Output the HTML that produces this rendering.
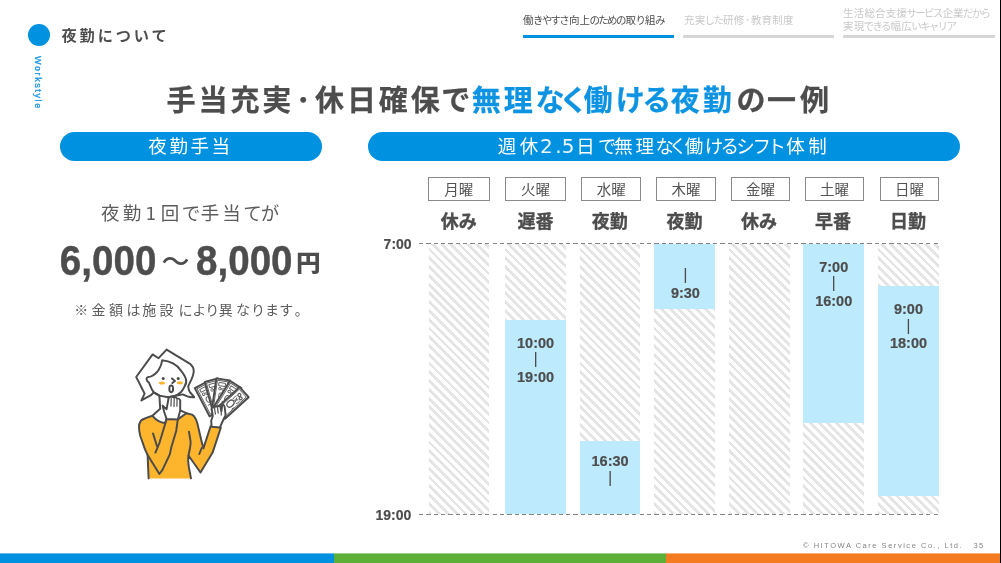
<!DOCTYPE html>
<html lang="ja">
<head>
<meta charset="utf-8">
<title>夜勤について</title>
<style>
html,body{margin:0;padding:0;}
body{width:1001px;height:563px;position:relative;overflow:hidden;background:#fff;
  font-family:"Liberation Sans","Noto Sans CJK JP",sans-serif;color:#4d4d4d;}
.abs{position:absolute;white-space:nowrap;line-height:1;}
.jp{font-family:"Noto Sans CJK JP","Liberation Sans",sans-serif;}
/* header */
#dot{left:28px;top:24px;width:22px;height:22px;border-radius:50%;background:#0091e0;}
#hd{left:61.5px;top:23.8px;font-size:15.2px;font-weight:700;letter-spacing:2.9px;line-height:20px;color:#4d4d4d;}
#ws{left:38px;top:56px;font-size:9px;letter-spacing:1.6px;color:#1e96e3;-webkit-text-stroke:.35px #1e96e3;transform-origin:0 0;transform:rotate(90deg) translateY(-50%);line-height:10px;}
/* nav */
.tab{font-size:10.5px;letter-spacing:.2px;color:#c9c9c9;line-height:12.5px;}
.tab u{text-decoration:none;letter-spacing:-1.7px;margin-left:-.8px;margin-right:.8px;}
.tab s{text-decoration:none;margin:0 .5px;}
.bar{height:3px;top:35px;background:#d6d6d6;}
/* title */
#title{left:166.6px;top:76.6px;font-size:29px;font-weight:700;letter-spacing:2.9px;font-feature-settings:"palt";-webkit-text-stroke:.25px;line-height:42px;color:#4d4d4d;}
#title b{color:#0d93e2;font-weight:700;}
/* pills */
.pill{background:#0091e0;border-radius:15px;height:29px;top:132px;color:#fff;font-size:18.5px;font-weight:400;text-align:center;line-height:27px;letter-spacing:2.6px;font-feature-settings:"palt";}
.pill .d{font-family:"DejaVu Sans",sans-serif;font-weight:400;font-size:20px;color:rgba(255,255,255,.92);}
#p2{text-align:left;padding-left:130.3px;width:462.7px !important;}
/* left */
#l1{left:101px;top:198.5px;font-size:18.5px;font-weight:400;letter-spacing:3.2px;line-height:26px;color:#5c5c5c;font-feature-settings:"palt";}
.num{font-size:38.6px;font-weight:700;-webkit-text-stroke:.4px #4d4d4d;line-height:1;color:#4d4d4d;transform:scaleY(1.1);transform-origin:0 0;}
#note{left:74.2px;top:299.4px;font-size:14px;font-weight:400;letter-spacing:3.4px;line-height:20px;color:#5c5c5c;font-feature-settings:"palt";}
/* chart */
.day{top:177px;height:21.5px;border:1px solid #8a8a8a;font-size:14.5px;text-align:center;line-height:22px;color:#555;font-weight:400;}
.sh{top:206.8px;-webkit-text-stroke:.35px #4d4d4d;font-size:18px;font-weight:700;text-align:center;line-height:26px;color:#4d4d4d;}
.col{width:60.6px;top:244px;height:270px;
  background:repeating-linear-gradient(45deg,#e4e4e4 0,#e4e4e4 2.7px,#fff 2.7px,#fff 6.2px);}
.blue{background:#bdeafc;width:60.6px;}
.tm{font-size:14.5px;font-weight:700;line-height:17.2px;-webkit-text-stroke:.2px #4d4d4d;text-align:center;width:60.6px;color:#4d4d4d;}
.tm i{display:block;font-style:normal;font-weight:400;-webkit-text-stroke:0;font-size:16.6px;height:17.2px;line-height:17.2px;position:relative;top:-1.8px;}
.ax{font-size:14px;font-weight:700;-webkit-text-stroke:.2px #4d4d4d;color:#4d4d4d;line-height:16px;transform:scaleY(1.05);transform-origin:0 0;}
.dash{left:419px;width:520px;height:1px;background:repeating-linear-gradient(90deg,#858585 0,#858585 4.3px,transparent 4.3px,transparent 7.35px);}
/* footer */
#ft,#pg{left:803px;top:541px;font-size:7.5px;letter-spacing:1.53px;color:#858585;line-height:9px;}
#pg{left:973.6px;letter-spacing:1.2px;}
</style>
</head>
<body>
<!-- header -->
<div class="abs" id="dot"></div>
<div class="abs jp" id="hd">夜勤について</div>
<div class="abs" id="ws">Workstyle</div>

<!-- nav tabs -->
<div class="abs jp tab" style="left:523px;top:14px;color:#4d4d4d;" aria-label="働きやすさ向上のための取り組み">働<u>きやすさ</u>向上<u>のための</u>取<u>り</u>組<u>み</u></div>
<div class="abs bar" style="left:523px;width:151px;background:#0091e0;"></div>
<div class="abs jp tab" style="left:684px;top:14px;" aria-label="充実した研修･教育制度">充実<u>した</u>研修<s>･</s>教育制度</div>
<div class="abs bar" style="left:683px;width:151px;"></div>
<div class="abs jp tab" style="left:843px;top:7px;" aria-label="生活総合支援サービス企業だから 実現できる幅広いキャリア">生活総合支援<u>サービス</u>企業<u>だから</u><br>実現<u>できる</u>幅広<u>いキャリア</u></div>
<div class="abs bar" style="left:843px;width:152px;"></div>

<!-- title -->
<div class="abs jp" id="title" role="heading" aria-label="手当充実･休日確保で無理なく働ける夜勤の一例">手当充実<span style="margin:0 1.7px">･</span>休日確保で<b>無理<span style="letter-spacing:-2.1px">な</span><span style="letter-spacing:-0.1px">く</span>働<span style="letter-spacing:-0.1px">け</span><span style="letter-spacing:0.9px">る</span>夜<span style="letter-spacing:4.9px">勤</span></b><span style="letter-spacing:1.9px">の</span><span style="letter-spacing:3.9px">一</span>例</div>

<!-- pills -->
<div class="abs jp pill" id="p1" style="left:59.5px;width:262px;">夜勤手当</div>
<div class="abs jp pill" id="p2" style="left:367.5px;width:593px;" aria-label="週休2.5日で無理なく働けるシフト体制"><span style="letter-spacing:3.5px">週</span><span style="letter-spacing:1.6px">休</span><span class="d" style="letter-spacing:2.6px">2</span><span class="d" style="letter-spacing:0.2px">.</span><span class="d" style="letter-spacing:1.6px">5</span><span style="letter-spacing:4.0px">日</span><span style="letter-spacing:-1.4px">で</span><span style="letter-spacing:2.6px">無</span><span style="letter-spacing:1.6px">理</span><span style="letter-spacing:-2.4px">な</span><span style="letter-spacing:0.6px">く</span><span style="letter-spacing:1.6px">働</span><span style="letter-spacing:-1.5px">け</span><span style="letter-spacing:-1.4px">る</span><span style="letter-spacing:0.1px">シ</span><span style="letter-spacing:1.1px">フ</span><span style="letter-spacing:1.6px">ト</span><span style="letter-spacing:3.6px">体</span><span style="letter-spacing:0.0px">制</span></div>

<!-- left block -->
<div class="abs jp" id="l1" aria-label="夜勤1回で手当てが">夜勤<span style="font-family:'DejaVu Sans',sans-serif;font-size:17px;letter-spacing:0;margin:0 4.4px 0 1.2px;">1</span>回<span style="letter-spacing:1px">で</span>手当<span style="letter-spacing:-.2px">て</span>が</div>
<div class="abs num" style="left:59.8px;top:239.9px;">6,000</div>
<div class="abs jp" style="left:161.6px;top:245.8px;font-size:28px;font-weight:500;line-height:28px;color:#4d4d4d;">～</div>
<div class="abs num" style="left:196px;top:239.8px;">8,000</div>
<div class="abs jp" style="left:296px;top:250.4px;font-size:24.6px;font-weight:900;line-height:24.6px;color:#4d4d4d;transform:scaleY(.93);transform-origin:0 0;">円</div>
<div class="abs jp" id="note" aria-label="※金額は施設により異なります。">※金額<span style="letter-spacing:1.8px">は</span>施<span style="letter-spacing:5px">設</span><span style="letter-spacing:1px">により</span>異<span style="letter-spacing:1.9px">なります</span>。</div>

<!-- ILLUS -->
<svg class="abs" style="left:120px;top:340px;" width="140" height="150" viewBox="120 340 140 150">
<style>
.w{fill:#fff;stroke:#4b4b4b;stroke-width:1.95;stroke-linejoin:round;stroke-linecap:round}
.o{fill:#fdb52e;stroke:#4b4b4b;stroke-width:1.95;stroke-linejoin:round;stroke-linecap:round}
.l{fill:none;stroke:#4b4b4b;stroke-width:1.95;stroke-linejoin:round;stroke-linecap:round}
.t{fill:none;stroke:#5a5a5a;stroke-width:.9;stroke-linejoin:round;stroke-linecap:round}
</style>
<!-- sweater silhouette -->
<path class="o" d="M148.6,478.4 L147.6,455 L145,449.4 L140.2,435.8 C139.5,433 139,430 139,427 C138.8,425 139.3,423 141,420.6 C143,419 147,417.5 152.4,415.8 C156,420 160,422.5 165,423 L166.6,419 L177.8,419.4 L186.4,413.2 L192,414.6 C194.5,416 196.5,419.5 197.5,424 L201,439 L203.4,448.4 L210.6,426.3 L220.8,427.8 L212.6,452.6 L200.5,472.5 L188.5,455.5 C188,458 188,462 189,468 L191,478.4"/>
<path class="l" d="M166.6,419 L165,424.6 L159.4,443 L155.4,452.6 M153,433.4 L157,446.2 L157.8,447.4 M177.8,419.4 L176.2,431 L171.4,447 L169.8,454.4 L162.6,469.6 L159.4,474 L147.6,455 M189,431.8 L190.6,441.4 C190.8,446 189.5,450 188.5,455.5 M201.7,448 L199.3,454"/>
<!-- neck -->
<path class="l" d="M159.4,395.6 L160.2,408.8 L152.4,415.8 M180.2,410.4 L186.4,413.2"/>
<!-- hair -->
<path class="w" d="M141.4,400.4 L144.6,393.6 C143,390 141.5,388 141,386.4 L136.2,377 L152.6,354.4 L158.6,358.2 L166.6,349.6 L190.5,364.2 C192.5,366 193.7,368 193.7,370.6 C194,376 190,382 188.2,386.4 C188.5,389 189,391 189.8,392 L194.2,397.2 C191,397.5 189,397 187.4,396.4 L182.6,394.4 L174.6,396 L168.2,397.2 L159.4,395.6 L153.8,392.4 L151.4,394.8 Z"/>
<!-- face -->
<path class="l" d="M153.8,392.4 C151,389 150,385 149,382.6 C148,382 147,381 146.6,379.4 C146,378 147.5,376.8 150.6,376.6 C158,374 161.5,366 162.2,360.2 C166,360.6 170,361.8 173,363.4 C176.5,365.2 179,367.8 181,370.6 C183,373.2 185,376 185.8,378.6 C186.8,381.5 186.2,384 184.6,386.4 C183.6,388.6 182.4,390.4 181,392 C179,394 177,395.2 174.6,396 C172.4,396.8 170.4,397.2 168.2,397.2 M153.8,392.4 L159.4,395.6"/>
<circle cx="163.2" cy="378.6" r="1.5" fill="#4a4a4a"/><circle cx="178.2" cy="378.4" r="1.5" fill="#4a4a4a"/>
<path d="M172,378.4 L175,380.9 L172.3,383.1" fill="none" stroke="#4a4a4a" stroke-width="1.9" stroke-linecap="round" stroke-linejoin="round"/>
<ellipse cx="161.9" cy="382.9" rx="3" ry="1.5" fill="#fdb52e"/><ellipse cx="179.8" cy="382.8" rx="3" ry="1.5" fill="#fdb52e"/>
<ellipse cx="171.2" cy="388.8" rx="1.9" ry="3.4" class="l"/>
<!-- left hand -->
<path class="w" d="M166.6,419 L164.2,412 L162.6,405.6 L166.6,409.2 L168.6,398 C170,396.5 172,396.8 173,397.2 C175,397 176.5,397.6 177,398.4 C178.5,398.5 179.8,399 180.2,400 L180.2,410.4 L177.8,419.4 Z"/>
<path class="t" style="stroke-width:1.3" d="M171.2,398.6 L171,406 M174.2,398.2 L174,406.6 M177.1,399.2 L176.9,406.2"/>
<!-- notes -->
<g transform="translate(194.8 388.0) rotate(-27.5)"><rect x="0" y="0" width="13.5" height="32" class="w"/><rect x="1.7" y="1.7" width="10.1" height="28.6" class="t"/><rect x="3.6" y="3.6" width="6.3" height="3.2" class="t"/><circle cx="5" cy="9.6" r="1.3" class="t"/><circle cx="8.6" cy="10.2" r="1.3" class="t"/><ellipse cx="6.8" cy="16.5" rx="2.1" ry="2.9" class="t"/><path d="M4 21.5h2M8 22.5h2" class="t"/></g>
<g transform="translate(204.8 382.0) rotate(-15.4)"><rect x="0" y="0" width="13.5" height="32" class="w"/><rect x="1.7" y="1.7" width="10.1" height="28.6" class="t"/><rect x="3.6" y="3.6" width="6.3" height="3.2" class="t"/><circle cx="5" cy="9.6" r="1.3" class="t"/><circle cx="8.6" cy="10.2" r="1.3" class="t"/><ellipse cx="6.8" cy="16.5" rx="2.1" ry="2.9" class="t"/><path d="M4 21.5h2M8 22.5h2" class="t"/></g>
<g transform="translate(216.4 378.4) rotate(8.4)"><rect x="0" y="0" width="13.5" height="32" class="w"/><rect x="1.7" y="1.7" width="10.1" height="28.6" class="t"/><rect x="3.6" y="3.6" width="6.3" height="3.2" class="t"/><circle cx="5" cy="9.6" r="1.3" class="t"/><circle cx="8.6" cy="10.2" r="1.3" class="t"/><ellipse cx="6.8" cy="16.5" rx="2.1" ry="2.9" class="t"/><path d="M4 21.5h2M8 22.5h2" class="t"/></g>
<g transform="translate(230.0 380.8) rotate(32.0)"><rect x="0" y="0" width="13.5" height="32" class="w"/><rect x="1.7" y="1.7" width="10.1" height="28.6" class="t"/><rect x="3.6" y="3.6" width="6.3" height="3.2" class="t"/><circle cx="5" cy="9.6" r="1.3" class="t"/><circle cx="8.6" cy="10.2" r="1.3" class="t"/><ellipse cx="6.8" cy="16.5" rx="2.1" ry="2.9" class="t"/><path d="M4 21.5h2M8 22.5h2" class="t"/></g>
<g transform="translate(239.6 387.2) rotate(47.7)"><rect x="0" y="0" width="13.5" height="32" class="w"/><rect x="1.7" y="1.7" width="10.1" height="28.6" class="t"/><ellipse cx="6" cy="17.8" rx="2.9" ry="4" class="t" style="stroke-width:1.25"/><circle cx="5.6" cy="5.4" r="1.5" class="t" style="stroke-width:1.2"/><circle cx="9" cy="6.6" r="1.4" class="t" style="stroke-width:1.2"/><path d="M4.2 8.4c-.6 1.6-.6 3 0 4.2M10.2 9.4c.6 1.4.4 2.8-.4 4M6 9.5l2 3.6M8.4 9.6l-2.6 3.4" class="t"/><path d="M11 18.5v2M3 25.5v2" class="t"/></g>
<!-- right hand -->
<path class="w" d="M211.6,426.6 L211.2,420.8 L212.8,416 L211.6,408.5 C212.5,407 213.6,407 214.4,407.6 C215,406 216.6,405.8 217.4,406.8 C218.2,405.4 219.8,405.4 220.4,406.8 L221.4,411.5 L222.2,405 C223.4,404.2 224.6,405.6 224.8,408 L225.6,415.2 L223.2,420 L220,427.4 Z"/>
<path class="t" style="stroke-width:1.3" d="M214.4,407.6 L215.4,414 M217.4,406.8 L218.2,413.2 M221.4,411.5 L221.2,415"/>
</svg>
<!-- /ILLUS -->

<!-- chart: day labels -->
<div class="abs jp day" style="left:427.8px;width:59.9px;">月曜</div>
<div class="abs jp day" style="left:504.8px;width:59.5px;">火曜</div>
<div class="abs jp day" style="left:581.4px;width:57.6px;">水曜</div>
<div class="abs jp day" style="left:656.4px;width:57.4px;">木曜</div>
<div class="abs jp day" style="left:730.5px;width:57.8px;">金曜</div>
<div class="abs jp day" style="left:804.6px;width:57.8px;">土曜</div>
<div class="abs jp day" style="left:879.8px;width:57.2px;">日曜</div>
<div class="abs jp sh" style="left:427.8px;width:61.9px;">休み</div>
<div class="abs jp sh" style="left:504.8px;width:61.5px;">遅番</div>
<div class="abs jp sh" style="left:579.9px;width:59.6px;">夜勤</div>
<div class="abs jp sh" style="left:654.9px;width:59.4px;">夜勤</div>
<div class="abs jp sh" style="left:729.0px;width:59.8px;">休み</div>
<div class="abs jp sh" style="left:803.1px;width:59.8px;">早番</div>
<div class="abs jp sh" style="left:878.3px;width:59.2px;">日勤</div>


<!-- chart: columns -->
<div class="abs col" style="left:428.5px;"></div>
<div class="abs col" style="left:505.3px;"></div>
<div class="abs col" style="left:579.8px;"></div>
<div class="abs col" style="left:654.2px;"></div>
<div class="abs col" style="left:729px;"></div>
<div class="abs col" style="left:803.4px;"></div>
<div class="abs col" style="left:878.2px;"></div>

<div class="abs blue" style="left:505.3px;top:319.7px;height:194.3px;"></div>
<div class="abs blue" style="left:579.8px;top:440.8px;height:73.2px;"></div>
<div class="abs blue" style="left:654.2px;top:244px;height:64.7px;"></div>
<div class="abs blue" style="left:803.4px;top:244px;height:179.3px;"></div>
<div class="abs blue" style="left:878.2px;top:286px;height:209.9px;"></div>

<div class="abs tm" style="left:505.3px;top:334.5px;">10:00<i>|</i>19:00</div>
<div class="abs tm" style="left:579.8px;top:453.3px;">16:30<i>|</i></div>
<div class="abs tm" style="left:655.1px;top:267.5px;"><i>|</i>9:30</div>
<div class="abs tm" style="left:803.4px;top:258.6px;">7:00<i>|</i>16:00</div>
<div class="abs tm" style="left:878.2px;top:301.1px;">9:00<i>|</i>18:00</div>

<div class="abs dash" style="top:243px;"></div>
<div class="abs dash" style="top:514px;"></div>
<div class="abs ax" style="left:383.6px;top:235.4px;">7:00</div>
<div class="abs ax" style="left:375.5px;top:506.3px;">19:00</div>

<!-- footer -->
<div class="abs" id="ft">© HITOWA Care Service Co., Ltd.</div>
<div class="abs" id="pg">35</div>
<div class="abs" style="left:0;top:553px;width:334px;height:10px;background:linear-gradient(to bottom,rgba(0,145,224,.6) 0,rgba(0,145,224,.6) 1px,#0091e0 1px);"></div>
<div class="abs" style="left:334px;top:553px;width:332px;height:10px;background:linear-gradient(to bottom,rgba(92,176,55,.6) 0,rgba(92,176,55,.6) 1px,#5cb037 1px);"></div>
<div class="abs" style="left:666px;top:553px;width:335px;height:10px;background:linear-gradient(to bottom,rgba(244,123,32,.6) 0,rgba(244,123,32,.6) 1px,#f47b20 1px);"></div>
<div class="abs" style="left:1000px;top:0;width:1px;height:563px;background:#000;"></div>
</body>
</html>
